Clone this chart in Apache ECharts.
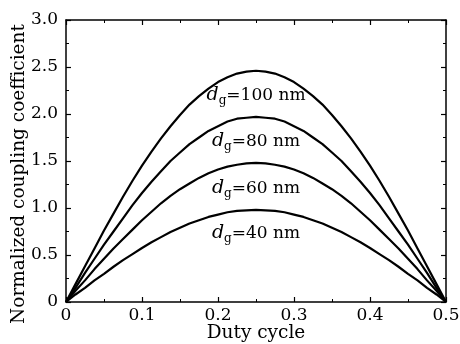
<!DOCTYPE html>
<html><head><meta charset="utf-8">
<script src="https://cdn.jsdelivr.net/npm/echarts@6/dist/echarts.min.js"></script>
<style>html,body{margin:0;padding:0;background:#fff}#c{width:460px;height:344px}</style>
</head><body><div id="c"></div>
<script>
const dutyCycle = [0,0.0125,0.025,0.0375,0.05,0.0625,0.075,0.0875,0.1,0.1125,0.125,0.1375,0.15,0.1625,0.175,0.1875,0.2,0.2125,0.225,0.2375,0.25,
  0.2625,0.275,0.2875,0.3,0.3125,0.325,0.3375,0.35,0.3625,0.375,0.3875,0.4,0.4125,0.425,0.4375,0.45,0.4625,0.475,0.4875,0.5];
const dg100 = [0,0.19,0.38,0.57,0.76,0.94,1.12,1.29,1.45,1.60,1.74,1.87,1.99,2.10,2.19,2.27,2.34,2.39,2.43,2.45,2.46,
  2.45,2.43,2.39,2.34,2.27,2.19,2.10,1.99,1.87,1.74,1.60,1.45,1.29,1.12,0.94,0.76,0.57,0.38,0.19,0];
const dg80  = [0,0.15,0.31,0.46,0.61,0.75,0.89,1.03,1.16,1.28,1.39,1.50,1.59,1.68,1.75,1.82,1.87,1.92,1.95,1.96,1.97,
  1.96,1.95,1.92,1.87,1.82,1.75,1.68,1.59,1.50,1.39,1.28,1.16,1.03,0.89,0.75,0.61,0.46,0.31,0.15,0];
const dg60  = [0,0.12,0.23,0.35,0.46,0.57,0.67,0.77,0.87,0.96,1.05,1.13,1.20,1.26,1.32,1.37,1.41,1.44,1.46,1.475,1.48,
  1.475,1.46,1.44,1.41,1.37,1.32,1.26,1.20,1.13,1.05,0.96,0.87,0.77,0.67,0.57,0.46,0.35,0.23,0.12,0];
const dg40  = [0,0.08,0.15,0.23,0.30,0.375,0.445,0.51,0.575,0.635,0.69,0.745,0.79,0.835,0.87,0.905,0.93,0.955,0.97,0.975,0.98,
  0.975,0.97,0.955,0.93,0.905,0.87,0.835,0.79,0.745,0.69,0.635,0.575,0.51,0.445,0.375,0.30,0.23,0.15,0.08,0];
const seriesNames = ['100 nm','80 nm','60 nm','40 nm'];
const labelAt = [[0.25,2.20],[0.25,1.71],[0.25,1.21],[0.25,0.73]];
const xTickLabels = ['0','0.1','0.2','0.3','0.4','0.5'];
const yTickLabels = ['0','0.5','1.0','1.5','2.0','2.5','3.0'];

const FONT = 'DejaVu Serif';
const chart = echarts.init(document.getElementById('c'));
const allData = [dg100, dg80, dg60, dg40];
const axisCommon = {
  axisLine:{show:true,onZero:false,lineStyle:{color:'#000',width:1.5}},
  axisTick:{show:true,inside:true,length:5,lineStyle:{color:'#000',width:1.2}},
  minorTick:{show:true,splitNumber:2,length:3,lineStyle:{color:'#000',width:1}},
  splitLine:{show:false}
};
chart.setOption({
  animation:false,
  grid:{left:66,right:14,top:20,bottom:42,containLabel:false,outerBoundsMode:'none'},
  xAxis:[
    Object.assign({type:'value',min:0,max:0.5,interval:0.1,position:'bottom',
      name:'Duty cycle',nameLocation:'middle',nameGap:22,nameMoveOverlap:false,
      nameTextStyle:{fontFamily:FONT,fontSize:18.5,color:'#000'},
      axisLabel:{fontFamily:FONT,fontSize:17,color:'#000',margin:5,
        formatter:v=>xTickLabels[Math.round(v/0.1)]}},axisCommon),
    Object.assign({type:'value',min:0,max:0.5,interval:0.1,position:'top',axisLabel:{show:false}},axisCommon)
  ],
  yAxis:[
    Object.assign({type:'value',min:0,max:3,interval:0.5,position:'left',
      name:'Normalized coupling coefficient',nameLocation:'middle',nameGap:37,nameMoveOverlap:false,
      nameTextStyle:{fontFamily:FONT,fontSize:18.5,color:'#000',padding:[0,0,0,-26]},
      axisLabel:{fontFamily:FONT,fontSize:17,color:'#000',margin:8,
        formatter:v=>yTickLabels[Math.round(v/0.5)]}},axisCommon),
    Object.assign({type:'value',min:0,max:3,interval:0.5,position:'right',axisLabel:{show:false}},axisCommon)
  ],
  series: allData.map((d,i)=>({
    type:'line',smooth:false,symbol:'none',
    data: dutyCycle.map((x,j)=>[x,d[j]]),
    lineStyle:{color:'#000',width:2.2,join:'round'},
    markPoint:{
      symbol:'circle',symbolSize:0,
      data:[{coord:labelAt[i]}],
      label:{show:true,position:'inside',
        formatter:'{i|d}{s|g}{n|=' + seriesNames[i] + '}',
        rich:{
          i:{fontFamily:FONT,fontStyle:'italic',fontSize:19,color:'#000'},
          s:{fontFamily:FONT,fontSize:12,color:'#000',padding:[11,0,0,0]},
          n:{fontFamily:FONT,fontSize:17,color:'#000'}
        }}
    }
  }))
});
</script></body></html>
